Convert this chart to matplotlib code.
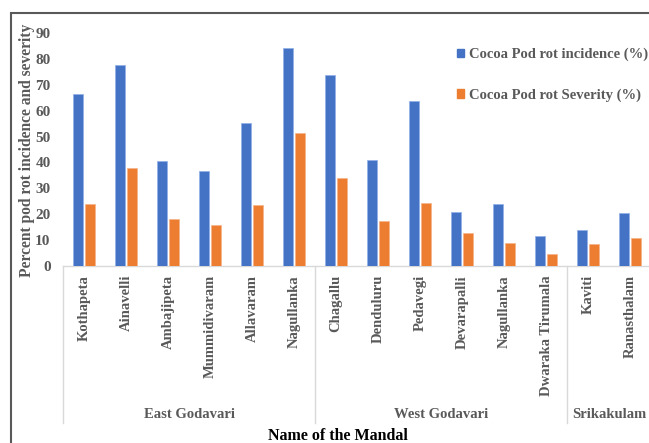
import matplotlib
matplotlib.use("Agg")
import matplotlib.pyplot as plt
import matplotlib.patches as mpatches
from matplotlib.lines import Line2D
import numpy as np

mandals = ["Kothapeta", "Ainavelli", "Ambajipeta", "Mummidivaram", "Allavaram", "Nagullanka",
           "Chagallu", "Denduluru", "Pedavegi", "Devarapalli", "Nagullanka", "Dwaraka Tirumala",
           "Kaviti", "Ranasthalam"]
districts = ["East Godavari", "West Godavari", "Srikakulam"]
district_sizes = [6, 6, 2]
incidence = [66.5, 77.8, 40.4, 36.5, 55.4, 84.3, 73.8, 41.0, 63.7, 20.8, 24.0, 11.4, 13.9, 20.4]
severity = [24.0, 37.7, 18.0, 15.9, 23.4, 51.5, 33.8, 17.2, 24.3, 12.7, 8.9, 4.6, 8.5, 10.9]
yticks = [0, 10, 20, 30, 40, 50, 60, 70, 80, 90]

BLUE = "#4472C4"
ORANGE = "#ED7D31"
GRAY = "#595959"
FONT = "Liberation Serif"

W, H = 649, 443
fig = plt.figure(figsize=(W / 100, H / 100), dpi=100)

x0, x1 = 63, 651
y_zero, y_top = 265.9, 33
ax = fig.add_axes([x0 / W, (H - y_zero) / H, (x1 - x0) / W, (y_zero - y_top) / H])

x = np.arange(len(mandals))
bw = 0.235
ax.bar(x - 0.15, incidence, bw, color=BLUE, edgecolor="#8fb0e8", linewidth=0.5, zorder=3)
ax.bar(x + 0.15, severity, bw, color=ORANGE, edgecolor="#f5b48a", linewidth=0.5, zorder=3)

ax.set_xlim(-0.5, len(mandals) - 0.5)
ax.set_ylim(0, 90)
for s in ["top", "right", "left"]:
    ax.spines[s].set_visible(False)
ax.spines["bottom"].set_color("#d9d9d9")
ax.spines["bottom"].set_linewidth(1.0)

ax.set_yticks(yticks)
ax.set_yticklabels([str(v) for v in yticks], fontfamily=FONT, fontweight="bold",
                   fontsize=11, color=GRAY)
ax.tick_params(axis="y", length=0, pad=9)

ax.set_xticks(x)
ax.set_xticklabels(mandals, rotation=90, fontfamily=FONT, fontweight="bold",
                   fontsize=10.5, color=GRAY, va="top")
ax.tick_params(axis="x", length=0, pad=6.5)

# group separators & labels
ax_h = y_zero - y_top
sep_bottom = -(423 - y_zero) / ax_h
trans = matplotlib.transforms.blended_transform_factory(ax.transData, ax.transAxes)
bounds = np.concatenate([[0], np.cumsum(district_sizes)]) - 0.5
for b in bounds:
    ax.add_line(Line2D([b, b], [0, sep_bottom], transform=trans, color="#d9d9d9",
                       linewidth=1.0, clip_on=False))
label_y = -(415 - y_zero) / ax_h
for i, name in enumerate(districts):
    cx = (bounds[i] + bounds[i + 1]) / 2
    ax.text(cx, label_y, name, transform=trans, ha="center", va="center",
            fontfamily=FONT, fontweight="bold", fontsize=10.5, color=GRAY, clip_on=False)

fig.text(338 / W, 1 - 436 / H, "Name of the Mandal", ha="center", va="center",
         fontfamily=FONT, fontweight="bold", fontsize=11.5, color="black")
fig.text(27 / W, 1 - 150 / H, "Percent pod rot incidence and severity", ha="center",
         va="center", rotation=90, fontfamily=FONT, fontweight="bold", fontsize=11.2,
         color=GRAY)

handles = [mpatches.Patch(color=BLUE), mpatches.Patch(color=ORANGE)]
fig.legend(handles, ["Cocoa Pod rot incidence (%)", "Cocoa Pod rot Severity (%)"],
           loc="upper left", bbox_to_anchor=(457 / W, 1 - 48 / H), frameon=False,
           borderpad=0, borderaxespad=0, handlelength=0.5, handleheight=0.5,
           handletextpad=0.3, labelspacing=1.85,
           prop={"family": FONT, "weight": "bold", "size": 10.5}, labelcolor=GRAY)

# outer chart border
fig.patches.append(mpatches.Rectangle((10.5 / W, -0.2), 1.5, 1.2 - 12.5 / H,
                                      transform=fig.transFigure, fill=False,
                                      edgecolor=GRAY, linewidth=1.5))

fig.savefig("out.png", dpi=100)
